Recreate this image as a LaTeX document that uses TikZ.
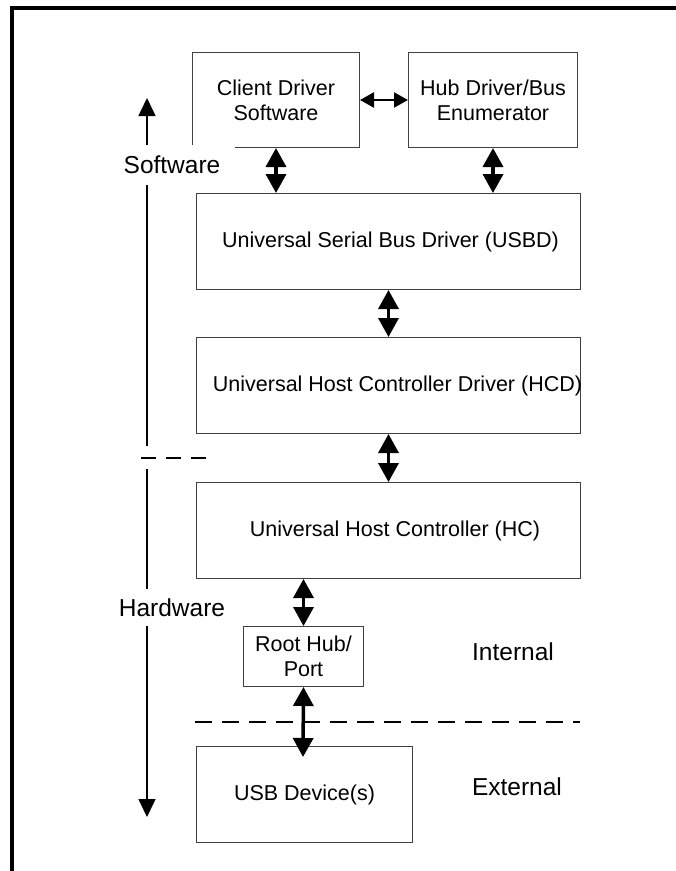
\documentclass[tikz,border=0pt]{standalone}
\usepackage{fontspec}
\setmainfont{Liberation Sans}
\usetikzlibrary{arrows.meta,calc}

\tikzset{
  box/.style={draw=black!75, line width=1pt, inner sep=0pt, anchor=north west, align=center},
  txt/.style={inner sep=0pt, align=center},
  bigtxt/.style={txt, font=\fontsize{24.5}{28}\selectfont},
  dbl/.style={line width=3.5pt, {Triangle[length=19pt, width=20pt]}-{Triangle[length=19pt, width=20pt]}},
  dblsmall/.style={line width=2.2pt, {Triangle[length=14pt, width=15pt]}-{Triangle[length=14pt, width=15pt]}},
  axis/.style={line width=1.6pt, -{Triangle[length=18pt, width=17pt]}},
  sidelabel/.style={bigtxt, fill=white, minimum width=126pt},
  divider/.style={line width=2.3pt},
}

\begin{document}
\begin{tikzpicture}[x=1pt, y=-1pt, font=\fontsize{21.5}{25}\selectfont]
  \useasboundingbox (0,0) rectangle (676,871);

  % outer frame (top and left rules)
  \draw[line width=4pt] (12,871) -- (12,8) -- (676,8);

  % software stack
  \node[box, minimum width=167pt, minimum height=95pt] (client) at (192,52) {Client Driver\\Software};
  \node[box, minimum width=169pt, minimum height=95pt] (hub) at (408,52) {Hub Driver/Bus\\Enumerator};
  \node[box, minimum width=384pt, minimum height=96pt] (usbd) at (196,193) {\hspace*{4pt}Universal Serial Bus Driver (USBD)};
  \node[box, minimum width=384pt, minimum height=96pt,
        label={[txt, name=hcdtext, xshift=9pt]center:Universal Host Controller Driver (HCD)}] (hcd) at (196,337) {};
  \node[box, minimum width=384pt, minimum height=96pt,
        label={[txt, name=hctext, xshift=6.5pt]center:Universal Host Controller (HC)}] (hc) at (196,482) {};
  \node[box, minimum width=120pt, minimum height=60pt] (root) at (243,626) {Root Hub/\\Port};
  \node[box, minimum width=216pt, minimum height=96pt] (dev) at (196,746) {USB Device(s)};

  % links between layers
  \draw[dblsmall] (client.east) -- (hub.west);
  \draw[dbl] (client.south) -- (client.south |- usbd.north);
  \draw[dbl] (hub.south) -- (hub.south |- usbd.north);
  \draw[dbl] (usbd.south) -- (hcd.north);
  \draw[dbl] (hcd.south) -- (hc.north);
  \draw[dbl] (hc.south -| root.south) -- (root.north);
  \coordinate (devtip) at (303,757);
  \draw[dbl] (root.south) -- (devtip);

  % software / hardware axis
  \coordinate (axtop) at (147,98);
  \coordinate (axsw) at (147,446);
  \coordinate (axhw) at (147,469);
  \coordinate (axbot) at (147,817);
  \draw[axis] (axsw) -- (axtop);
  \draw[axis] (axhw) -- (axbot);
  \draw[divider, dash pattern=on 15pt off 10pt] (141,458) -- (208,458);

  \node[sidelabel, minimum height=40pt] (swlabel) at (172,165) {Software};
  \node[sidelabel, minimum height=37pt] (hwlabel) at (172,607.5) {Hardware};

  % internal / external boundary
  \draw[divider, dash pattern=on 17pt off 10pt] (195,722) -- (580,722);
  \node[bigtxt] (internal) at (513,652) {Internal};
  \node[bigtxt] (external) at (517,787) {External};
\end{tikzpicture}
\end{document}
